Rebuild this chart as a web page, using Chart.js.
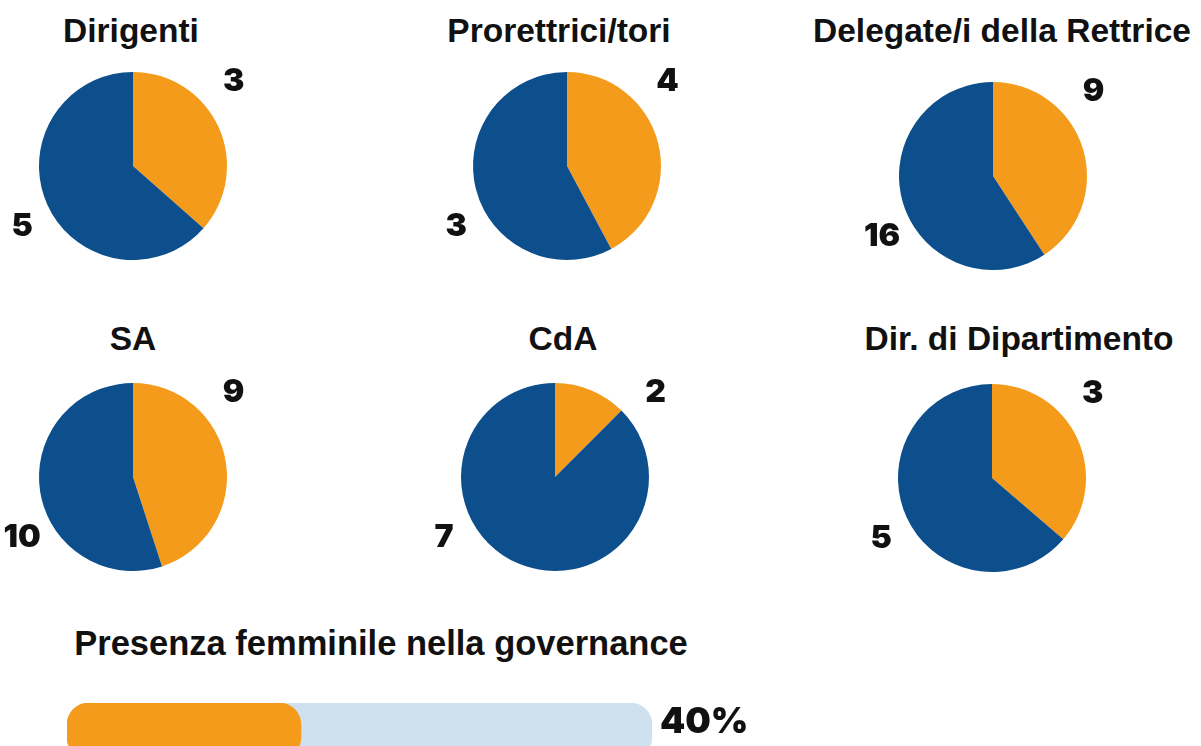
<!DOCTYPE html>
<html lang="it">
<head>
<meta charset="utf-8">
<title>Governance</title>
<script src="https://cdn.jsdelivr.net/npm/chart.js"></script>
<style>
  html, body { margin: 0; padding: 0; background: #fff; }
  body { width: 1201px; height: 746px; position: relative; overflow: hidden; }
  canvas { position: absolute; }
  .titolo {
    position: absolute;
    width: 440px;
    text-align: center;
    font-family: "Liberation Sans", Arial, sans-serif;
    font-weight: bold;
    font-size: 33.5px;
    line-height: 33.5px;
    color: #111;
    white-space: nowrap;
  }
</style>
</head>
<body>

<script>
// dati
const gruppi = ['Dirigenti', 'Prorettrici/tori', 'Delegate/i della Rettrice', 'SA', 'CdA', 'Dir. di Dipartimento'];
const donne = [3, 4, 9, 9, 2, 3];
const uomini = [5, 3, 16, 10, 7, 5];
// quota delle donne come disegnata nelle torte (%)
const quotaDonne = [36.5, 42.2, 40.8, 45, 12.5, 36.3];
const presenzaFemminile = 40;

const ARANCIO = '#F59B1C';
const BLU = '#0C4F8C';
const AZZURRO = '#CFE0EF';

// posizioni (centro torta, centro titolo, baseline titolo)
const layout = [
  { cx: 133, cy: 166, tx: 131, ty: 42 },
  { cx: 567, cy: 166, tx: 559, ty: 42 },
  { cx: 993, cy: 176, tx: 1002, ty: 42 },
  { cx: 133, cy: 477, tx: 133, ty: 350 },
  { cx: 555, cy: 477, tx: 563, ty: 350 },
  { cx: 992, cy: 478, tx: 1019, ty: 350 }
];

const numFont = '900 32px Inter, Lato, "DejaVu Sans", sans-serif';

const etichette = {
  id: 'etichette',
  afterDraw(chart, args, opts) {
    const arc = chart.getDatasetMeta(0).data[0];
    const r = arc.outerRadius;
    const ctx = chart.ctx;
    ctx.save();
    ctx.font = numFont;
    ctx.fillStyle = '#111';
    ctx.textAlign = 'center';
    ctx.textBaseline = 'middle';
    ctx.fillText(String(opts.donne), arc.x + 1.07 * r, arc.y - 0.9 * r);
    ctx.fillText(String(opts.uomini), arc.x - 1.18 * r, arc.y + 0.64 * r);
    ctx.restore();
  }
};

gruppi.forEach((nome, i) => {
  const pos = layout[i];

  const t = document.createElement('div');
  t.className = 'titolo';
  t.textContent = nome;
  t.style.left = (pos.tx - 220) + 'px';
  t.style.top = (pos.ty - 28) + 'px';
  document.body.appendChild(t);

  const c = document.createElement('canvas');
  c.width = 300;
  c.height = 260;
  c.style.left = (pos.cx - 150) + 'px';
  c.style.top = (pos.cy - 130) + 'px';
  document.body.appendChild(c);

  new Chart(c.getContext('2d'), {
    type: 'pie',
    data: {
      labels: ['Donne', 'Uomini'],
      datasets: [{
        data: [quotaDonne[i], 100 - quotaDonne[i]],
        backgroundColor: [ARANCIO, BLU],
        borderWidth: 0
      }]
    },
    options: {
      responsive: false,
      animation: false,
      layout: { padding: { left: 6, right: 6, top: 36, bottom: 36 } },
      plugins: {
        legend: { display: false },
        tooltip: { enabled: false },
        etichette: { donne: donne[i], uomini: uomini[i] }
      }
    },
    plugins: [etichette]
  });
});

// titolo della barra
const tb = document.createElement('div');
tb.className = 'titolo';
tb.style.width = '700px';
tb.style.fontSize = '34.5px';
tb.style.lineHeight = '34.5px';
tb.style.left = (381 - 350) + 'px';
tb.style.top = (655 - 29) + 'px';
tb.textContent = 'Presenza femminile nella governance';
document.body.appendChild(tb);

// barra di avanzamento
const percentuale = {
  id: 'percentuale',
  afterDraw(chart) {
    const ctx = chart.ctx;
    const bar = chart.getDatasetMeta(1).data[0];
    ctx.save();
    ctx.font = '900 36px Inter, Lato, "DejaVu Sans", sans-serif';
    ctx.fillStyle = '#111';
    ctx.textAlign = 'left';
    ctx.textBaseline = 'middle';
    ctx.fillText(presenzaFemminile + '%', chart.chartArea.right + 8, bar.y - bar.height / 2 + 19);
    ctx.restore();
  }
};

const cb = document.createElement('canvas');
cb.width = 700;
cb.height = 56;
cb.style.left = '67px';
cb.style.top = '703px';
document.body.appendChild(cb);

new Chart(cb.getContext('2d'), {
  type: 'bar',
  data: {
    labels: ['Donne'],
    datasets: [
      {
        data: [presenzaFemminile],
        backgroundColor: ARANCIO,
        borderRadius: 22,
        borderSkipped: false,
        order: 0
      },
      {
        data: [100],
        backgroundColor: AZZURRO,
        borderRadius: 22,
        borderSkipped: false,
        order: 1
      }
    ]
  },
  options: {
    indexAxis: 'y',
    responsive: false,
    animation: false,
    layout: { padding: { left: 0, right: 115, top: 0, bottom: 0 } },
    datasets: { bar: { grouped: false, barPercentage: 1, categoryPercentage: 1 } },
    scales: {
      x: { display: false, min: 0, max: 100 },
      y: { display: false }
    },
    plugins: {
      legend: { display: false },
      tooltip: { enabled: false }
    }
  },
  plugins: [percentuale]
});
</script>
</body>
</html>
